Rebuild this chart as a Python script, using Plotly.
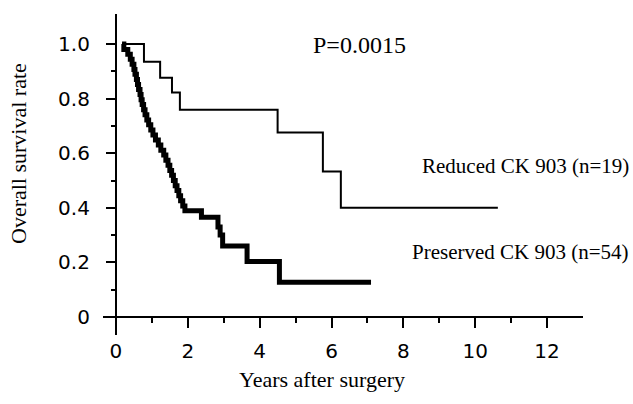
import plotly.graph_objects as go

# Reduced CK 903 (n=19) - Kaplan-Meier steps (years, survival)
reduced_t = [0.17, 0.78, 1.23, 1.56, 1.78, 4.50, 5.76, 6.26, 10.63]
reduced_s = [1.0, 0.935, 0.876, 0.822, 0.759, 0.676, 0.533, 0.40, 0.40]

# Preserved CK 903 (n=54)
preserved_t = [0.17, 0.22, 0.33, 0.40, 0.45, 0.50, 0.53, 0.57, 0.60, 0.63,
               0.67, 0.70, 0.73, 0.77, 0.81, 0.86, 0.91, 0.97, 1.03, 1.10,
               1.18, 1.25, 1.33, 1.39, 1.45, 1.50, 1.55, 1.60, 1.65, 1.70,
               1.75, 1.80, 1.86, 1.92, 2.38, 2.84, 2.90, 2.97, 3.65, 4.55, 7.10]
preserved_s = [1.0, 0.98, 0.963, 0.944, 0.926, 0.907, 0.889, 0.870, 0.852, 0.833,
               0.815, 0.796, 0.778, 0.759, 0.741, 0.722, 0.704, 0.685, 0.667, 0.648,
               0.630, 0.611, 0.593, 0.574, 0.556, 0.537, 0.519, 0.500, 0.481, 0.463,
               0.444, 0.426, 0.407, 0.389, 0.365, 0.33, 0.30, 0.26, 0.203, 0.127, 0.127]

x_major = [0, 2, 4, 6, 8, 10, 12]
x_minor = [1, 3, 5, 7, 9, 11]
y_major = [0, 0.2, 0.4, 0.6, 0.8, 1.0]
y_major_text = ["0", "0.2", "0.4", "0.6", "0.8", "1.0"]
y_minor = [0.1, 0.3, 0.5, 0.7, 0.9]

x_range = [-0.36, 13.0]
y_range = [-0.066, 1.11]

serif = "Liberation Serif, Times New Roman, serif"
sans = "DejaVu Sans, sans-serif"

L, R, T, B = 103, 50, 14, 69
W, H = 633, 404
PW, PH = W - L - R, H - T - B


def px(x):
    return (x - L) / PW


def py(y):
    return (H - B - y) / PH


fig = go.Figure()
fig.add_trace(go.Scatter(x=reduced_t, y=reduced_s, mode="lines",
                         line=dict(color="black", width=2, shape="hv"),
                         showlegend=False, hoverinfo="skip"))
fig.add_trace(go.Scatter(x=preserved_t, y=preserved_s, mode="lines",
                         line=dict(color="black", width=5, shape="hv"),
                         showlegend=False, hoverinfo="skip"))

xpos = (0 - x_range[0]) / (x_range[1] - x_range[0])
ypos = (0 - y_range[0]) / (y_range[1] - y_range[0])

fig.update_layout(
    width=W, height=H,
    margin=dict(l=L, r=R, t=T, b=B, autoexpand=False),
    paper_bgcolor="white", plot_bgcolor="white",
    xaxis=dict(range=x_range, anchor="free", position=ypos, automargin=False,
               showline=True, linecolor="black", linewidth=2,
               showgrid=False, zeroline=False,
               ticks="outside", ticklen=10, tickwidth=2, tickcolor="black",
               tickvals=x_major, ticktext=[str(v) for v in x_major],
               tickfont=dict(family=sans, size=20, color="black"),
               ticklabelstandoff=6,
               minor=dict(tickvals=x_minor, ticks="outside", ticklen=5,
                          tickwidth=2, tickcolor="black", showgrid=False)),
    yaxis=dict(range=y_range, anchor="free", position=xpos, automargin=False,
               showline=True, linecolor="black", linewidth=2,
               showgrid=False, zeroline=False,
               ticks="outside", ticklen=9, tickwidth=2, tickcolor="black",
               tickvals=y_major, ticktext=y_major_text,
               tickfont=dict(family=sans, size=20, color="black"),
               ticklabelstandoff=12,
               minor=dict(tickvals=y_minor, ticks="outside", ticklen=4,
                          tickwidth=2, tickcolor="black", showgrid=False)),
)

fig.add_annotation(text="P=0.0015", x=px(359), y=py(45), xref="paper", yref="paper",
                   showarrow=False, font=dict(family=serif, size=24, color="black"),
                   xanchor="center", yanchor="middle")
fig.add_annotation(text="Reduced CK 903 (n=19)", x=px(631), y=py(166),
                   xref="paper", yref="paper", showarrow=False,
                   font=dict(family=serif, size=21, color="black"),
                   xanchor="right", yanchor="middle")
fig.add_annotation(text="Preserved CK 903 (n=54)", x=px(631), y=py(252),
                   xref="paper", yref="paper", showarrow=False,
                   font=dict(family=serif, size=21, color="black"),
                   xanchor="right", yanchor="middle")
fig.add_annotation(text="Years after surgery", x=px(322), y=py(379),
                   xref="paper", yref="paper", showarrow=False,
                   font=dict(family=serif, size=22, color="black"),
                   xanchor="center", yanchor="middle")
fig.add_annotation(text="Overall survival rate", x=px(18), y=py(154),
                   xref="paper", yref="paper", showarrow=False, textangle=-90,
                   font=dict(family=serif, size=22, color="black"),
                   xanchor="center", yanchor="middle")

fig.write_html("out.html",
               config={"displayModeBar": False},
               post_script="document.body.style.margin='0';document.body.style.overflow='hidden';")
